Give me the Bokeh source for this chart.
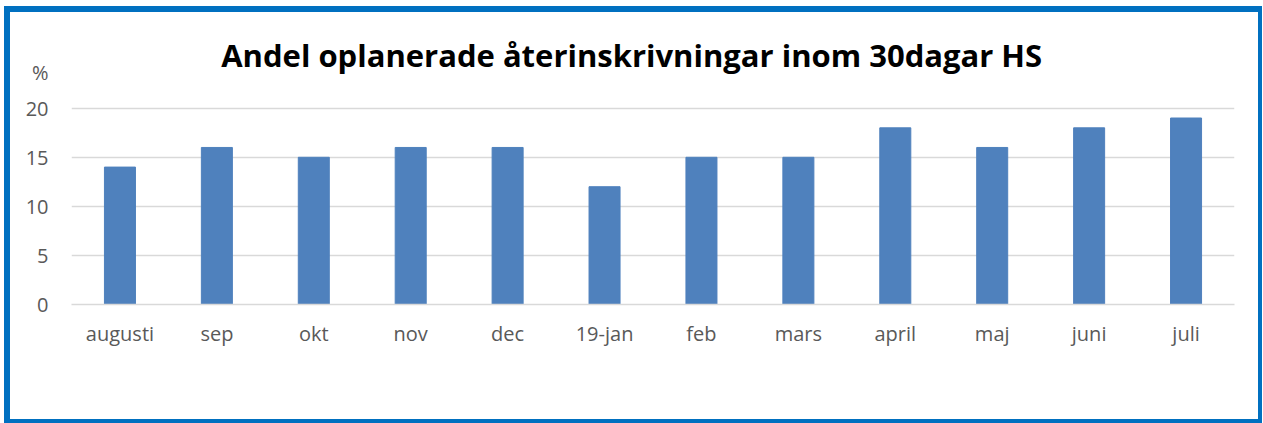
from bokeh.plotting import figure
from bokeh.models import Range1d, FixedTicker, Label, ColumnDataSource
from bokeh.embed import file_html
from bokeh.resources import INLINE

months = ["augusti", "sep", "okt", "nov", "dec", "19-jan", "feb", "mars", "april", "maj", "juni", "juli"]
values = [14, 16, 15, 16, 16, 12, 15, 15, 18, 16, 18, 19]
y_ticks = [0, 5, 10, 15, 20]
title_text = "Andel oplanerade återinskrivningar inom 30dagar HS"
unit_text = "%"
unit_pos = 23.65

pos = [i + 0.5 for i in range(len(months))]
src = ColumnDataSource(dict(x=pos, v=values))

p = figure(x_range=Range1d(0, len(months)), y_range=Range1d(0, 29.75), width=1248, height=407,
           output_backend="svg", toolbar_location=None,
           min_border_left=61, min_border_right=34, min_border_top=0, min_border_bottom=125)
p.styles = {"box-sizing": "content-box",
            "border-style": "solid", "border-color": "#0070C0",
            "border-left-width": "6px", "border-top-width": "6px",
            "border-right-width": "4px", "border-bottom-width": "4px",
            "margin-left": "4px", "margin-top": "6px"}
p.outline_line_color = None
p.background_fill_color = "white"
p.border_fill_color = "white"

p.vbar(x="x", top="v", width=0.32, source=src, fill_color="#4F81BD", line_color="#4F81BD")

p.yaxis.ticker = FixedTicker(ticks=y_ticks + [unit_pos])
p.yaxis.major_label_overrides = {unit_pos: unit_text}
p.yaxis.axis_line_color = None
p.yaxis.major_tick_line_color = None
p.yaxis.minor_tick_line_color = None
p.yaxis.major_label_text_color = "#595959"
p.yaxis.major_label_text_font = "Open Sans"
p.yaxis.major_label_text_font_size = "20px"
p.yaxis.major_label_standoff = 17

p.xaxis.ticker = FixedTicker(ticks=pos)
p.xaxis.major_label_overrides = {x: m for x, m in zip(pos, months)}
p.xaxis.axis_line_color = "#D9D9D9"
p.xaxis.axis_line_width = 1.5
p.xaxis.major_tick_line_color = None
p.xaxis.minor_tick_line_color = None
p.xaxis.major_label_text_color = "#595959"
p.xaxis.major_label_text_font = "Open Sans"
p.xaxis.major_label_text_font_size = "20px"
p.xaxis.major_label_standoff = 9

p.xgrid.grid_line_color = None
p.ygrid.ticker = FixedTicker(ticks=y_ticks)
p.ygrid.grid_line_color = "#D9D9D9"
p.ygrid.grid_line_width = 1.5

p.add_layout(Label(x=5.78, y=25.4, text=title_text,
                   text_align="center", text_baseline="middle",
                   text_font="Open Sans", text_font_style="bold", text_font_size="31px",
                   text_color="black"))

open("out.html", "w").write(file_html(p, INLINE))
